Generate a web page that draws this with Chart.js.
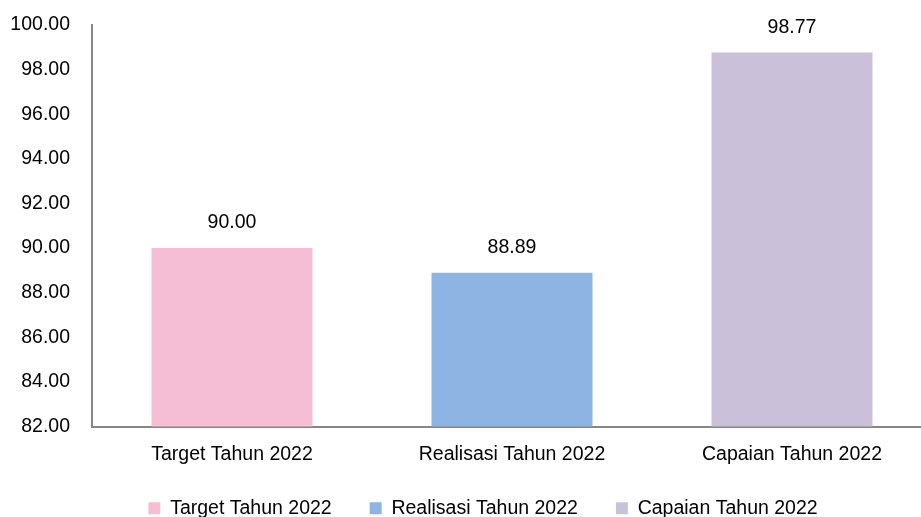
<!DOCTYPE html>
<html>
<head>
<meta charset="utf-8">
<script src="https://cdn.jsdelivr.net/npm/chart.js@4"></script>
<style>
html, body { margin: 0; padding: 0; overflow: hidden; background: #fff; }
</style>
</head>
<body>
<canvas id="chart" width="940" height="536"></canvas>
<script>
const categories = ['Target Tahun 2022', 'Realisasi Tahun 2022', 'Capaian Tahun 2022'];
const values = [90.00, 88.89, 98.77];
const barColors = ['#F5BED5', '#8DB4E2', '#CBC0DA'];
const yTicks = [82, 84, 86, 88, 90, 92, 94, 96, 98, 100];

const FONT = '"Liberation Sans", Arial, sans-serif';
const FSIZE = 19.5;
const axisColor = '#868686';

// value labels above the bars
const valueLabels = {
    id: 'valueLabels',
    afterDatasetsDraw(chart) {
        const ctx = chart.ctx;
        const meta = chart.getDatasetMeta(0);
        ctx.save();
        ctx.font = FSIZE + 'px ' + FONT;
        ctx.fillStyle = '#000';
        ctx.textAlign = 'center';
        ctx.textBaseline = 'middle';
        meta.data.forEach((bar, i) => {
            ctx.fillText(values[i].toFixed(2), bar.x, bar.y - 25);
        });
        ctx.restore();
    }
};

// legend sits a little right of the canvas centre and a bit higher in the original
const legendShift = {
    id: 'legendShift',
    afterLayout(chart) {
        const l = chart.legend;
        l.left += 17;
        l.right += 17;
        l.top -= 8;
        l.bottom -= 8;
    }
};

new Chart(document.getElementById('chart'), {
    type: 'bar',
    data: {
        labels: categories,
        datasets: [{
            data: values,
            backgroundColor: barColors,
            borderWidth: 0,
            barPercentage: 0.575,
            categoryPercentage: 1
        }]
    },
    options: {
        responsive: false,
        animation: false,
        layout: { padding: { top: 25, left: 0, right: 8, bottom: 0 } },
        plugins: {
            tooltip: { enabled: false },
            legend: {
                position: 'bottom',
                labels: {
                    boxWidth: 12,
                    boxHeight: 12,
                    padding: 38,
                    color: '#000',
                    font: { family: FONT, size: FSIZE },
                    generateLabels: () => categories.map((c, i) => ({
                        text: c,
                        fillStyle: barColors[i],
                        strokeStyle: barColors[i],
                        lineWidth: 0,
                        hidden: false,
                        index: i
                    }))
                }
            }
        },
        scales: {
            x: {
                grid: { display: false, drawTicks: false },
                border: { display: true, color: axisColor, width: 2 },
                ticks: { color: '#000', padding: 16, font: { family: FONT, size: FSIZE }, maxRotation: 0 },
                afterFit: s => { s.height = 42; }
            },
            y: {
                min: 82,
                max: 100,
                // invisible tick marks give the label gap without adding top padding
                grid: { drawOnChartArea: false, drawTicks: true, tickLength: 22, tickColor: 'rgba(0,0,0,0)', color: 'rgba(0,0,0,0)' },
                border: { display: true, color: axisColor, width: 2 },
                afterBuildTicks: s => { s.ticks = yTicks.map(v => ({ value: v })); },
                ticks: {
                    color: '#000',
                    padding: 0,
                    font: { family: FONT, size: FSIZE },
                    callback: v => Number(v).toFixed(2)
                },
                afterFit: s => { s.width = 92; }
            }
        }
    },
    plugins: [valueLabels, legendShift]
});
</script>
</body>
</html>
